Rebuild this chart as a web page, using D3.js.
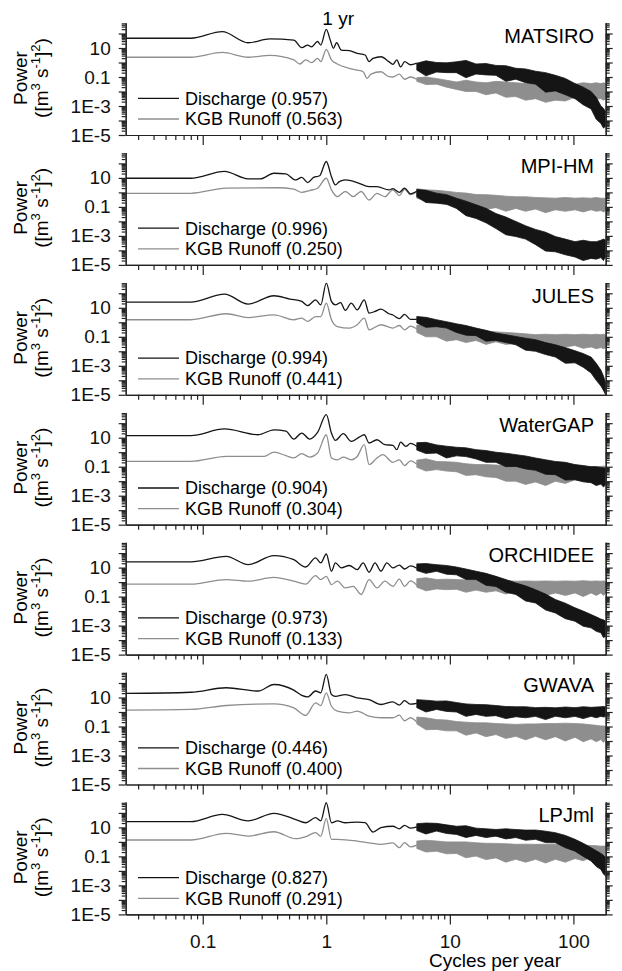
<!DOCTYPE html>
<html>
<head>
<meta charset="utf-8">
<script src="https://cdn.jsdelivr.net/npm/d3@7"></script>
<style>
  body { margin: 0; background: #fff; }
  svg { display: block; font-family: "Liberation Sans", Arial, sans-serif; }
  .axis path, .axis line { stroke: #222; stroke-width: 1.2; }
  .axis text { font-size: 19px; fill: #111; font-family: "Liberation Sans", Arial, sans-serif; }
</style>
</head>
<body>
<script>
// model names and correlation values from the legends
var models = ["MATSIRO", "MPI-HM", "JULES", "WaterGAP", "ORCHIDEE", "GWAVA", "LPJml"];
var dischargeR = ["0.957", "0.996", "0.994", "0.904", "0.973", "0.446", "0.827"];
var runoffR = ["0.563", "0.250", "0.441", "0.304", "0.133", "0.400", "0.291"];

var xTickValues = [0.1, 1, 10, 100];
var xTickLabels = ["0.1", "1", "10", "100"];
var yTickValues = [10, 0.1, 1e-3, 1e-5];
var yTickLabels = ["10", "0.1", "1E-3", "1E-5"];

// low frequency part of each spectrum: [cycles per year, power]
var dischargeSmooth = [
  [[0.0238,47],[0.08,47],[0.144,135],[0.233,23],[0.35,42],[0.546,35],[0.633,10.5],[0.707,16],[0.761,12],[0.85,28],[0.902,16],[1.0,195],[1.077,35],[1.142,9.5],[1.211,23],[1.324,7.2],[1.535,6.6],[1.779,4.3],[2.06,3.3],[2.22,1.15],[2.39,1.95],[2.77,2.5],[3.21,1.15],[3.46,0.75],[3.72,1.5],[4.0,0.5],[4.31,1.15],[4.8,0.7],[5.4,0.9]],
  [[0.0238,9.5],[0.08,9.5],[0.15,28],[0.233,8.5],[0.291,8.5],[0.377,21],[0.471,19],[0.566,7.2],[0.633,11],[0.707,4.8],[0.789,11],[0.882,14],[1.0,135],[1.101,12],[1.185,3.3],[1.276,5.6],[1.426,7.2],[1.779,4.8],[2.22,2.5],[2.57,2.5],[3.21,1.5],[3.46,1.8],[3.9,1.0],[4.3,2.0],[4.8,0.8],[5.4,1.2]],
  [[0.0238,25],[0.08,25],[0.15,87],[0.233,18],[0.377,68],[0.507,40],[0.633,28],[0.707,14],[0.819,35],[0.902,16],[1.0,500],[1.101,28],[1.185,16],[1.305,23],[1.426,6.6],[1.593,21],[1.779,7.2],[2.03,35],[2.22,4.3],[2.48,5.6],[2.77,8.1],[3.21,3.9],[3.46,3.2],[3.9,1.8],[4.3,3.5],[4.8,1.6],[5.4,1.6]],
  [[0.0238,14],[0.08,14],[0.15,40],[0.281,16],[0.377,35],[0.471,28],[0.546,8.1],[0.633,21],[0.733,8.1],[0.85,23],[1.0,390],[1.101,21],[1.185,6.6],[1.374,19],[1.593,5.6],[1.846,11],[2.03,16],[2.22,4.3],[2.57,7.2],[2.98,3.3],[3.46,3.0],[3.72,1.5],[4.0,5],[4.4,2.5],[4.8,4],[5.4,2.5]],
  [[0.0238,25],[0.08,25],[0.155,60],[0.233,16],[0.377,68],[0.546,35],[0.681,11],[0.819,47],[0.902,21],[1.0,87],[1.101,5.6],[1.185,21],[1.324,9.5],[1.535,14],[1.779,7.2],[1.987,21],[2.22,4.8],[2.48,21],[2.77,5.6],[3.09,21],[3.46,9.5],[3.9,15],[4.3,8],[4.8,13],[5.4,9]],
  [[0.0238,19],[0.08,23],[0.155,47],[0.281,28],[0.377,79],[0.546,32],[0.633,14],[0.707,11],[0.819,28],[0.902,21],[1.0,390],[1.101,16],[1.185,12],[1.426,16],[1.779,9.5],[2.22,7.2],[2.77,3.3],[3.46,5],[3.9,3],[4.3,6],[4.8,3.5],[5.4,4]],
  [[0.0238,25],[0.08,25],[0.144,79],[0.233,28],[0.377,93],[0.566,35],[0.681,21],[0.819,47],[0.902,28],[1.0,500],[1.101,21],[1.229,28],[1.426,21],[1.779,23],[2.06,21],[2.39,4.8],[2.77,9.5],[3.46,12],[3.9,8],[4.3,14],[4.8,9],[5.4,11]]
];

var runoffSmooth = [
  [[0.0238,2.3],[0.08,2.3],[0.144,5.0],[0.233,2.3],[0.35,3.1],[0.546,1.5],[0.61,0.79],[0.681,1.5],[0.761,0.98],[0.85,1.95],[0.902,1.15],[1.0,8.1],[1.101,1.5],[1.229,0.79],[1.535,0.4],[1.779,0.3],[1.987,0.23],[2.14,0.081],[2.30,0.16],[2.77,0.23],[3.21,0.105],[3.46,0.1],[3.9,0.16],[4.3,0.07],[4.8,0.1],[5.4,0.07]],
  [[0.0238,0.87],[0.08,0.87],[0.155,1.95],[0.406,2.1],[0.546,1.66],[0.633,1.0],[0.733,1.35],[0.85,1.95],[1.0,9.5],[1.101,1.5],[1.229,0.51],[1.426,1.15],[1.652,0.51],[1.916,1.15],[2.22,0.3],[2.57,0.87],[2.98,0.51],[3.46,1.5],[3.9,0.6],[4.3,1.6],[4.8,0.7],[5.4,1.1]],
  [[0.0238,1.5],[0.08,1.5],[0.155,3.9],[0.233,2.1],[0.377,3.3],[0.546,1.5],[0.633,1.95],[0.707,1.15],[0.819,2.5],[0.902,2.5],[1.0,21],[1.101,1.5],[1.229,0.51],[1.535,0.4],[1.779,0.68],[2.03,1.95],[2.22,0.3],[2.77,0.68],[3.46,0.4],[3.9,0.6],[4.3,0.3],[4.8,0.55],[5.4,0.35]],
  [[0.0238,0.23],[0.08,0.23],[0.155,0.51],[0.314,0.51],[0.377,1.0],[0.471,0.58],[0.546,0.4],[0.633,0.79],[0.733,0.46],[0.85,0.87],[1.0,16],[1.101,0.4],[1.229,0.3],[1.374,0.46],[1.593,0.3],[1.779,0.51],[2.03,3.3],[2.22,0.14],[2.57,0.4],[2.87,0.68],[3.46,0.2],[3.9,0.3],[4.3,0.12],[4.8,0.25],[5.4,0.15]],
  [[0.0238,0.72],[0.08,0.72],[0.155,1.5],[0.233,1.15],[0.377,2.1],[0.546,1.15],[0.681,0.72],[0.819,2.8],[0.902,1.5],[1.0,2.5],[1.101,0.68],[1.229,1.15],[1.426,0.4],[1.652,0.51],[1.916,0.14],[2.22,1.5],[2.57,0.4],[2.98,1.15],[3.46,0.51],[3.9,1.6],[4.3,0.5],[4.8,1.2],[5.4,0.6]],
  [[0.0238,1.35],[0.08,1.5],[0.155,2.8],[0.377,3.6],[0.546,1.95],[0.681,0.58],[0.819,4.3],[0.902,2.8],[1.0,21],[1.101,2.5],[1.229,1.15],[1.535,0.87],[1.779,1.15],[2.22,0.51],[2.77,0.4],[3.46,0.4],[3.9,0.6],[4.3,0.25],[4.8,0.4],[5.4,0.2]],
  [[0.0238,1.35],[0.08,1.35],[0.155,3.9],[0.233,2.5],[0.377,5.0],[0.566,1.66],[0.681,2.3],[0.819,4.3],[0.902,2.5],[1.0,40],[1.101,1.5],[1.229,1.5],[1.779,1.15],[2.22,0.87],[2.77,0.68],[3.46,0.87],[3.9,0.4],[4.3,0.9],[4.8,0.45],[5.4,0.6]]
];

// high frequency part: noisy, kept as lower and upper envelope on a shared grid
var bandFreq = [5.4, 6.4, 7.8, 9.4, 11.3, 13.5, 16.3, 19.6, 23.6, 28.4, 34.2, 41, 49.4, 59.5, 71.5, 86, 103, 120, 139, 153, 167, 175, 182.5];

var dischargeHi = [
  [0.89,1.3,1.0,0.95,1.12,1.4,0.79,0.85,0.63,0.6,0.4,0.36,0.25,0.2,0.13,0.08,0.035,0.02,0.01,0.004,0.001,0.0007,0.0004],
  [1.6,1.4,0.89,0.7,0.4,0.25,0.14,0.08,0.035,0.02,0.01,0.005,0.0028,0.0018,0.0009,0.0006,0.0004,0.0005,0.0004,0.0004,0.0005,0.0006,0.0005],
  [2.5,2.2,1.5,1.1,0.79,0.6,0.4,0.28,0.18,0.14,0.105,0.08,0.063,0.04,0.028,0.018,0.011,0.007,0.004,0.0015,0.0005,0.0002,0.000063],
  [4.5,4.8,3.2,2.6,2.2,2.0,1.5,1.3,1.0,0.85,0.68,0.55,0.4,0.3,0.23,0.2,0.14,0.12,0.1,0.1,0.089,0.085,0.079],
  [18,19,16,14,11,8,5.6,4,2.5,1.5,0.87,0.55,0.3,0.15,0.063,0.035,0.017,0.01,0.0058,0.004,0.0028,0.0025,0.002],
  [7.1,6.5,5.6,5.8,4.5,3.6,3.3,3.2,2.8,2.4,2.3,2.3,2.0,2.1,1.95,2.2,2.0,2.3,2.1,2.2,2.3,2.4,2.3],
  [18,20,19,15,12,13,8.9,8,7.2,8,7.1,6.5,6.6,5.5,4.3,2.8,1.5,0.8,0.4,0.25,0.16,0.12,0.081]
];
var dischargeLo = [
  [0.3,0.12,0.22,0.2,0.2,0.09,0.16,0.14,0.13,0.05,0.071,0.04,0.032,0.009,0.011,0.006,0.0032,0.0012,0.00063,0.00012,0.000063,0.00003,0.00004],
  [0.5,0.2,0.18,0.15,0.079,0.025,0.016,0.008,0.0032,0.0012,0.0009,0.0006,0.00025,0.00009,0.00008,0.00005,0.000035,0.00002,0.000028,0.000025,0.000032,0.00002,0.00004],
  [0.9,0.45,0.5,0.4,0.2,0.13,0.12,0.05,0.056,0.04,0.028,0.012,0.01,0.006,0.004,0.0015,0.0016,0.0008,0.00032,0.0001,0.00004,0.00002,0.00001],
  [1.4,0.8,0.87,0.4,0.56,0.5,0.34,0.2,0.2,0.1,0.105,0.07,0.056,0.03,0.028,0.012,0.0126,0.009,0.0079,0.005,0.0063,0.004,0.0056],
  [6.3,4,5.6,3.5,3.2,1.5,1.5,0.6,0.5,0.2,0.14,0.05,0.036,0.012,0.0074,0.003,0.002,0.0009,0.0007,0.0004,0.00032,0.00015,0.00018],
  [2.0,1.0,1.5,1.1,1.0,0.5,0.68,0.5,0.56,0.35,0.47,0.4,0.5,0.3,0.51,0.4,0.5,0.35,0.5,0.4,0.5,0.45,0.5],
  [6.0,3.5,5.6,3.8,3.3,2.0,2.8,2.0,2.5,1.6,2.0,1.3,1.5,0.9,0.87,0.4,0.23,0.1,0.048,0.02,0.0126,0.006,0.0044]
];
var runoffHi = [
  [0.089,0.1,0.079,0.06,0.045,0.06,0.045,0.04,0.05,0.045,0.04,0.035,0.032,0.03,0.028,0.03,0.032,0.04,0.035,0.04,0.035,0.04,0.035],
  [1.8,1.5,1.4,1.2,1.0,0.9,0.71,0.7,0.63,0.55,0.5,0.5,0.45,0.42,0.4,0.45,0.4,0.42,0.4,0.45,0.4,0.4,0.4],
  [0.63,0.7,0.5,0.4,0.32,0.35,0.28,0.25,0.22,0.2,0.18,0.16,0.14,0.15,0.14,0.15,0.14,0.15,0.14,0.15,0.14,0.15,0.14],
  [0.28,0.35,0.23,0.22,0.2,0.16,0.14,0.14,0.13,0.12,0.105,0.09,0.079,0.07,0.063,0.07,0.079,0.09,0.1,0.1,0.105,0.11,0.105],
  [1.7,2.0,1.5,1.6,1.5,1.4,1.4,1.3,1.26,1.3,1.15,1.2,1.15,1.2,1.15,1.2,1.15,1.25,1.15,1.2,1.15,1.2,1.15],
  [0.45,0.4,0.3,0.28,0.22,0.2,0.18,0.18,0.16,0.15,0.14,0.15,0.15,0.16,0.16,0.17,0.16,0.15,0.13,0.12,0.11,0.11,0.105],
  [1.15,1.3,1.15,1.0,1.0,1.0,0.87,0.8,0.79,0.75,0.68,0.7,0.68,0.7,0.68,0.65,0.63,0.6,0.56,0.55,0.51,0.52,0.51]
];
var runoffLo = [
  [0.05,0.03,0.032,0.02,0.014,0.01,0.01,0.006,0.0079,0.004,0.0045,0.0025,0.0032,0.0018,0.0025,0.0022,0.004,0.0025,0.0045,0.003,0.0032,0.0025,0.0032],
  [0.4,0.25,0.22,0.15,0.16,0.09,0.1,0.07,0.089,0.05,0.079,0.05,0.071,0.04,0.063,0.05,0.063,0.045,0.063,0.05,0.056,0.045,0.056],
  [0.2,0.1,0.1,0.05,0.063,0.04,0.056,0.03,0.045,0.03,0.035,0.022,0.028,0.02,0.028,0.02,0.025,0.016,0.02,0.015,0.018,0.015,0.018],
  [0.09,0.05,0.063,0.05,0.045,0.025,0.028,0.02,0.018,0.01,0.01,0.006,0.0089,0.005,0.01,0.007,0.0126,0.01,0.02,0.015,0.025,0.018,0.025],
  [0.45,0.25,0.34,0.3,0.32,0.2,0.28,0.2,0.25,0.15,0.23,0.15,0.2,0.12,0.18,0.12,0.18,0.1,0.18,0.12,0.18,0.12,0.18],
  [0.15,0.06,0.063,0.05,0.05,0.025,0.036,0.02,0.028,0.015,0.021,0.012,0.021,0.012,0.02,0.01,0.018,0.009,0.014,0.009,0.0126,0.008,0.0126],
  [0.35,0.2,0.23,0.15,0.16,0.08,0.105,0.06,0.079,0.04,0.063,0.04,0.063,0.035,0.063,0.04,0.071,0.05,0.089,0.06,0.1,0.07,0.1]
];

var width = 622,
    height = 971,
    left = 125.7,
    right = 605.7,
    firstBottom = 135,
    step = 129.9,
    panelH = 112.3;

var black = "#151515",
    grey = "#8e8e8e";

var svg = d3.select("body")
            .append("svg")
            .attr("width", width)
            .attr("height", height);

var x = d3.scaleLog()
          .domain([0.0238, 182.5])
          .range([left, right]);

// minor and major tick positions for the log axes
var xMinor = [], yMinor = [], yMajor = [];
for (var e = -2; e <= 2; e++) {
    for (var k = 2; k <= 9; k++) {
        var v = k * Math.pow(10, e);
        if (v > 0.0238 && v < 182.5) xMinor.push(v);
    }
}
for (var e = -5; e <= 2; e++) {
    yMajor.push(Math.pow(10, e));
    for (var k = 2; k <= 9; k++) {
        var v = k * Math.pow(10, e);
        if (v < 556) yMinor.push(v);
    }
}

var defs = svg.append("defs");

models.forEach(function (name, i) {
    var bottom = firstBottom + i * step;
    var y = d3.scaleLog()
              .domain([1e-5, 556])
              .range([bottom, bottom - panelH]);

    var g = svg.append("g");

    defs.append("clipPath")
        .attr("id", "clip" + i)
        .append("rect")
        .attr("x", left)
        .attr("y", bottom - panelH)
        .attr("width", right - left)
        .attr("height", panelH);

    var plot = g.append("g").attr("clip-path", "url(#clip" + i + ")");

    var line = d3.line()
                 .x(function (d) { return x(d[0]); })
                 .y(function (d) { return y(d[1]); })
                 .curve(d3.curveMonotoneX);

    var band = function (lo, hi) {
        return d3.area()
                 .x(function (d, j) { return x(bandFreq[j]); })
                 .y0(function (d, j) { return y(lo[j]); })
                 .y1(function (d, j) { return y(hi[j]); })
                 (bandFreq);
    };

    // runoff (grey) under discharge (black)
    plot.append("path")
        .attr("d", band(runoffLo[i], runoffHi[i]))
        .attr("fill", grey)
        .attr("stroke", grey)
        .attr("stroke-width", 0.8);
    plot.append("path")
        .attr("d", line(runoffSmooth[i]))
        .attr("fill", "none")
        .attr("stroke", grey)
        .attr("stroke-width", 1.3);

    plot.append("path")
        .attr("d", band(dischargeLo[i], dischargeHi[i]))
        .attr("fill", black)
        .attr("stroke", black)
        .attr("stroke-width", 0.8);
    plot.append("path")
        .attr("d", line(dischargeSmooth[i]))
        .attr("fill", "none")
        .attr("stroke", black)
        .attr("stroke-width", 1.3);

    // x axis
    g.append("g")
        .attr("class", "axis")
        .attr("transform", "translate(0," + bottom + ")")
        .call(d3.axisBottom(x).tickValues(xMinor).tickSize(5).tickSizeOuter(0).tickFormat(""));
    g.append("g")
        .attr("class", "axis")
        .attr("transform", "translate(0," + bottom + ")")
        .call(d3.axisBottom(x).tickValues(xTickValues).tickSize(10).tickSizeOuter(0).tickPadding(10)
              .tickFormat(function (d, j) { return i === models.length - 1 ? xTickLabels[j] : ""; }));

    // left y axis
    g.append("g")
        .attr("class", "axis")
        .attr("transform", "translate(" + left + ",0)")
        .call(d3.axisLeft(y).tickValues(yMinor).tickSize(4).tickSizeOuter(0).tickFormat(""));
    g.append("g")
        .attr("class", "axis")
        .attr("transform", "translate(" + left + ",0)")
        .call(d3.axisLeft(y).tickValues(yMajor).tickSize(7).tickSizeOuter(0).tickPadding(8)
              .tickFormat(function (d) {
                  var j = yTickValues.findIndex(function (t) { return Math.abs(Math.log10(t) - Math.log10(d)) < 1e-6; });
                  return j >= 0 ? yTickLabels[j] : "";
              }));

    // right y axis
    g.append("g")
        .attr("class", "axis")
        .attr("transform", "translate(" + right + ",0)")
        .call(d3.axisRight(y).tickValues(yMinor).tickSize(4).tickSizeOuter(0).tickFormat(""));
    g.append("g")
        .attr("class", "axis")
        .attr("transform", "translate(" + right + ",0)")
        .call(d3.axisRight(y).tickValues(yMajor).tickSize(7).tickSizeOuter(0).tickFormat(""));

    // model name
    g.append("text")
        .attr("x", 594)
        .attr("y", bottom - 92.3)
        .attr("text-anchor", "end")
        .style("font-size", "20px")
        .text(name);

    // legend
    var legend = [["Discharge (" + dischargeR[i] + ")", black, bottom - 36.7],
                  ["KGB Runoff (" + runoffR[i] + ")", grey, bottom - 16]];
    legend.forEach(function (l) {
        g.append("line")
            .attr("x1", 138).attr("x2", 179)
            .attr("y1", l[2]).attr("y2", l[2])
            .attr("stroke", l[1])
            .attr("stroke-width", 1.3);
        g.append("text")
            .attr("x", 185)
            .attr("y", l[2])
            .attr("dy", "0.35em")
            .style("font-size", "18px")
            .text(l[0]);
    });

    // y axis title
    var cy = bottom - 57;
    g.append("text")
        .attr("transform", "translate(27," + cy + ") rotate(-90)")
        .attr("text-anchor", "middle")
        .style("font-size", "19px")
        .text("Power");
    var t2 = g.append("text")
        .attr("transform", "translate(48," + cy + ") rotate(-90)")
        .attr("text-anchor", "middle")
        .style("font-size", "19px");
    t2.append("tspan").text("([m");
    t2.append("tspan").attr("dy", -8).style("font-size", "13px").text("3");
    t2.append("tspan").attr("dy", 8).text(" s");
    t2.append("tspan").attr("dy", -8).style("font-size", "13px").text("-1");
    t2.append("tspan").attr("dy", 8).text("]");
    t2.append("tspan").attr("dy", -8).style("font-size", "13px").text("2");
    t2.append("tspan").attr("dy", 8).text(")");
});

// annual peak label
svg.append("text")
    .attr("x", x(1) - 4)
    .attr("y", 25)
    .style("font-size", "19px")
    .text("1 yr");

// x axis title
svg.append("text")
    .attr("x", 495)
    .attr("y", 967)
    .attr("text-anchor", "middle")
    .style("font-size", "19px")
    .text("Cycles per year");
</script>
</body>
</html>
